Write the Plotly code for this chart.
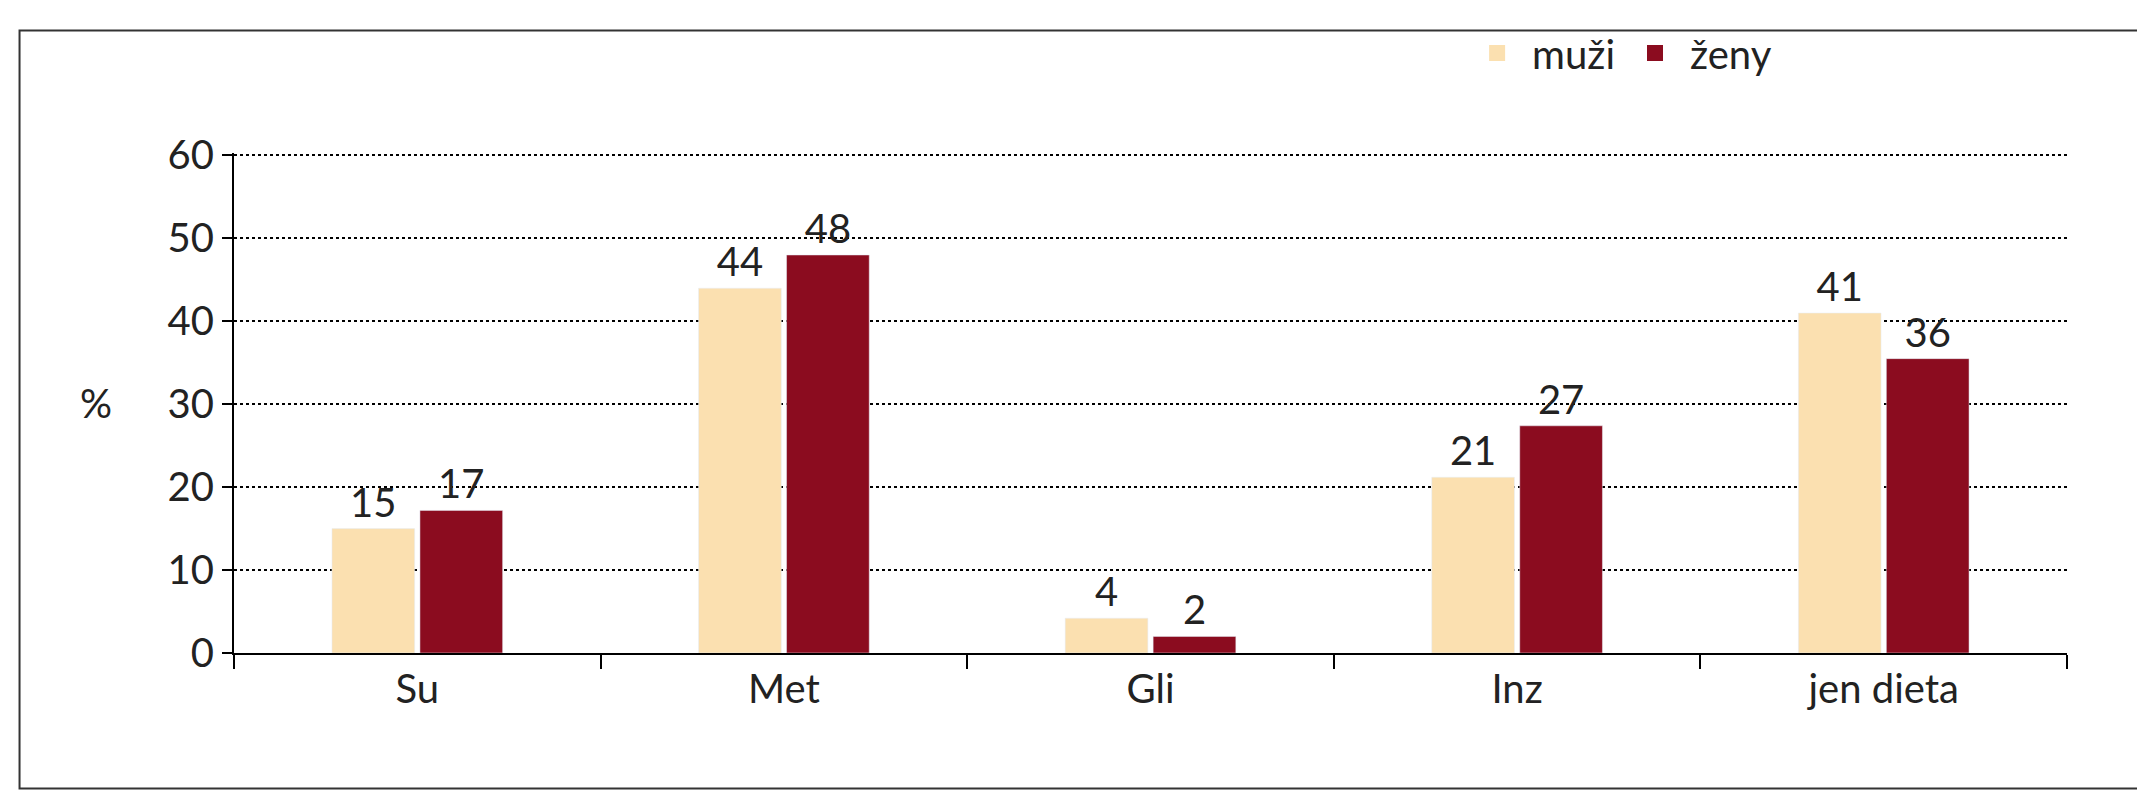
import plotly.graph_objects as go

categories = ["Su", "Met", "Gli", "Inz", "jen dieta"]
muzi = [15, 44, 4.2, 21.2, 41]
zeny = [17.2, 48, 2, 27.4, 35.5]
muzi_labels = ["15", "44", "4", "21", "41"]
zeny_labels = ["17", "48", "2", "27", "36"]

FONT = "Lato"
C_MUZI = "#fbe0b0"
C_ZENY = "#8b0c1f"

fig = go.Figure()
fig.add_trace(go.Bar(x=categories, y=muzi, name="muži", marker_color=C_MUZI,
                     text=muzi_labels, textposition="outside", cliponaxis=False,
                     textfont=dict(size=40, color="#222"), showlegend=False))
fig.add_trace(go.Bar(x=categories, y=zeny, name="ženy", marker_color=C_ZENY,
                     text=zeny_labels, textposition="outside", cliponaxis=False,
                     textfont=dict(size=40, color="#222"), showlegend=False))
# legend-only entries with big square swatches
for name, col in [("muži", C_MUZI), ("ženy", C_ZENY)]:
    fig.add_trace(go.Scatter(x=[None], y=[None], mode="markers", name=name,
                             marker=dict(symbol="square", size=50, color=col)))

fig.update_layout(
    width=2145, height=800,
    margin=dict(l=226, r=86, t=96, b=155),
    plot_bgcolor="white", paper_bgcolor="white",
    font=dict(family=FONT, size=40, color="#222"),
    barmode="group", bargap=0.52, bargroupgap=0.06,
    legend=dict(orientation="h", x=0.67, y=1.20, xanchor="left", yanchor="middle",
                font=dict(size=40), bgcolor="rgba(0,0,0,0)", itemwidth=60,
                tracegroupgap=60),
    xaxis=dict(showline=True, linecolor="black", linewidth=2, ticks="outside",
               tickson="boundaries", ticklen=14, tickcolor="black", tickwidth=2),
    yaxis=dict(range=[0, 60.3], tickvals=[0, 10, 20, 30, 40, 50, 60], showline=True,
               linecolor="black", linewidth=2,
               ticks="outside", ticklen=10, tickcolor="black", tickwidth=2,
               showgrid=True, gridcolor="black", gridwidth=2, griddash="dot",
               zeroline=False),
    shapes=[dict(type="rect", xref="paper", yref="paper", x0=-0.117, x1=1.041,
                 y0=-0.271, y1=1.245, line=dict(color="#333", width=2))],
    annotations=[dict(text="%", xref="paper", yref="paper", x=-0.085, y=0.5,
                      showarrow=False, font=dict(size=40))],
)

fig.write_html("out.html")
